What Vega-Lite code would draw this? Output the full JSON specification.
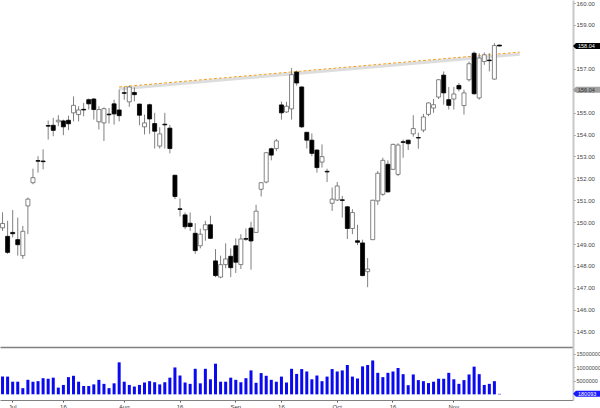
{
  "$schema": "https://vega.github.io/schema/vega-lite/v6.json",
  "padding": 0,
  "spacing": 0,
  "config": {
    "view": {"stroke": null},
    "axis": {"grid": false, "labelFont": "Liberation Sans", "title": null, "labelOverlap": false},
    "concat": {"spacing": 0}
  },
  "params": [
    {"name": "days", "value": ["2013-06-27","2013-06-28","2013-07-01","2013-07-02","2013-07-03","2013-07-05","2013-07-08","2013-07-09","2013-07-10","2013-07-11","2013-07-12","2013-07-15","2013-07-16","2013-07-17","2013-07-18","2013-07-19","2013-07-22","2013-07-23","2013-07-24","2013-07-25","2013-07-26","2013-07-29","2013-07-30","2013-07-31","2013-08-01","2013-08-02","2013-08-05","2013-08-06","2013-08-07","2013-08-08","2013-08-09","2013-08-12","2013-08-13","2013-08-14","2013-08-15","2013-08-16","2013-08-19","2013-08-20","2013-08-21","2013-08-22","2013-08-23","2013-08-26","2013-08-27","2013-08-28","2013-08-29","2013-08-30","2013-09-03","2013-09-04","2013-09-05","2013-09-06","2013-09-09","2013-09-10","2013-09-11","2013-09-12","2013-09-13","2013-09-16","2013-09-17","2013-09-18","2013-09-19","2013-09-20","2013-09-23","2013-09-24","2013-09-25","2013-09-26","2013-09-27","2013-09-30","2013-10-01","2013-10-02","2013-10-03","2013-10-04","2013-10-07","2013-10-08","2013-10-09","2013-10-10","2013-10-11","2013-10-14","2013-10-15","2013-10-16","2013-10-17","2013-10-18","2013-10-21","2013-10-22","2013-10-23","2013-10-24","2013-10-25","2013-10-28","2013-10-29","2013-10-30","2013-10-31","2013-11-01","2013-11-04","2013-11-05","2013-11-06","2013-11-07","2013-11-08","2013-11-11","2013-11-12","2013-11-13","2013-11-14","2013-11-15","2013-11-18","2013-11-19","2013-11-20","2013-11-21","2013-11-22","2013-11-25","2013-11-26","2013-11-27","2013-11-29","2013-12-02","2013-12-03","2013-12-04","2013-12-05"]}
  ],
  "datasets": {
    "ohlc": [
      {"d":"2013-06-27","o":149.74,"h":150.45,"l":149.60,"c":149.94,"v":6600000},
      {"d":"2013-06-28","o":149.35,"h":150.06,"l":148.55,"c":148.62,"v":6600000},
      {"d":"2013-07-01","o":149.53,"h":150.55,"l":149.30,"c":149.47,"v":4700000},
      {"d":"2013-07-02","o":149.20,"h":150.21,"l":148.47,"c":148.97,"v":4700000},
      {"d":"2013-07-03","o":148.47,"h":149.83,"l":148.32,"c":149.58,"v":2300000},
      {"d":"2013-07-05","o":150.74,"h":151.12,"l":149.45,"c":151.05,"v":5400000},
      {"d":"2013-07-08","o":151.80,"h":152.44,"l":151.73,"c":152.03,"v":4700000},
      {"d":"2013-07-09","o":152.81,"h":153.01,"l":152.26,"c":152.78,"v":4900000},
      {"d":"2013-07-10","o":152.79,"h":153.32,"l":152.41,"c":152.76,"v":6000000},
      {"d":"2013-07-11","o":154.41,"h":154.64,"l":153.77,"c":154.38,"v":5800000},
      {"d":"2013-07-12","o":154.42,"h":154.76,"l":153.92,"c":154.19,"v":6200000},
      {"d":"2013-07-15","o":154.58,"h":154.88,"l":154.38,"c":154.65,"v":2500000},
      {"d":"2013-07-16","o":154.62,"h":154.68,"l":153.97,"c":154.35,"v":3500000},
      {"d":"2013-07-17","o":154.65,"h":154.86,"l":154.20,"c":154.49,"v":6400000},
      {"d":"2013-07-18","o":154.99,"h":155.74,"l":154.60,"c":155.33,"v":6900000},
      {"d":"2013-07-19","o":154.91,"h":155.29,"l":154.60,"c":155.12,"v":4700000},
      {"d":"2013-07-22","o":155.15,"h":155.44,"l":154.83,"c":155.12,"v":3100000},
      {"d":"2013-07-23","o":155.59,"h":155.64,"l":155.14,"c":155.40,"v":3100000},
      {"d":"2013-07-24","o":155.62,"h":155.67,"l":154.68,"c":155.14,"v":3700000},
      {"d":"2013-07-25","o":154.58,"h":155.29,"l":154.23,"c":155.14,"v":5400000},
      {"d":"2013-07-26","o":154.53,"h":155.24,"l":153.70,"c":155.18,"v":3900000},
      {"d":"2013-07-29","o":154.93,"h":155.21,"l":154.50,"c":154.90,"v":2300000},
      {"d":"2013-07-30","o":155.40,"h":155.59,"l":154.45,"c":154.94,"v":4100000},
      {"d":"2013-07-31","o":155.12,"h":156.05,"l":154.60,"c":154.86,"v":11900000},
      {"d":"2013-08-01","o":155.91,"h":156.17,"l":155.59,"c":155.88,"v":4700000},
      {"d":"2013-08-02","o":155.49,"h":156.23,"l":155.26,"c":156.17,"v":3500000},
      {"d":"2013-08-05","o":155.92,"h":156.15,"l":155.51,"c":155.82,"v":2900000},
      {"d":"2013-08-06","o":155.39,"h":155.40,"l":154.42,"c":154.88,"v":3500000},
      {"d":"2013-08-07","o":154.35,"h":154.91,"l":154.00,"c":154.53,"v":4400000},
      {"d":"2013-08-08","o":155.36,"h":155.41,"l":154.03,"c":154.71,"v":4900000},
      {"d":"2013-08-09","o":154.50,"h":154.99,"l":153.36,"c":154.15,"v":4500000},
      {"d":"2013-08-12","o":153.47,"h":154.33,"l":153.36,"c":154.03,"v":3700000},
      {"d":"2013-08-13","o":154.47,"h":154.99,"l":153.36,"c":154.44,"v":4500000},
      {"d":"2013-08-14","o":154.29,"h":154.44,"l":153.14,"c":153.36,"v":6200000},
      {"d":"2013-08-15","o":152.14,"h":152.16,"l":151.05,"c":151.17,"v":10000000},
      {"d":"2013-08-16","o":150.61,"h":151.08,"l":150.26,"c":150.58,"v":7000000},
      {"d":"2013-08-19","o":150.33,"h":150.44,"l":149.68,"c":149.79,"v":4400000},
      {"d":"2013-08-20","o":149.95,"h":150.44,"l":149.60,"c":149.80,"v":3900000},
      {"d":"2013-08-21","o":149.49,"h":149.95,"l":148.55,"c":148.70,"v":9500000},
      {"d":"2013-08-22","o":148.92,"h":149.70,"l":148.80,"c":149.45,"v":4100000},
      {"d":"2013-08-23","o":149.65,"h":150.06,"l":149.15,"c":149.88,"v":9500000},
      {"d":"2013-08-26","o":149.88,"h":150.29,"l":149.23,"c":149.26,"v":5600000},
      {"d":"2013-08-27","o":148.23,"h":148.77,"l":147.49,"c":147.56,"v":11400000},
      {"d":"2013-08-28","o":147.49,"h":148.47,"l":147.44,"c":148.06,"v":4700000},
      {"d":"2013-08-29","o":148.06,"h":149.03,"l":147.89,"c":148.32,"v":4700000},
      {"d":"2013-08-30","o":148.44,"h":148.80,"l":147.49,"c":147.92,"v":6200000},
      {"d":"2013-09-03","o":148.92,"h":149.26,"l":147.68,"c":148.17,"v":5400000},
      {"d":"2013-09-04","o":148.06,"h":149.45,"l":147.86,"c":149.23,"v":4500000},
      {"d":"2013-09-05","o":149.25,"h":149.71,"l":149.14,"c":149.22,"v":6000000},
      {"d":"2013-09-06","o":149.73,"h":150.01,"l":147.83,"c":149.14,"v":8900000},
      {"d":"2013-09-09","o":149.53,"h":150.79,"l":149.53,"c":150.50,"v":4300000},
      {"d":"2013-09-10","o":151.50,"h":151.83,"l":151.17,"c":151.80,"v":7900000},
      {"d":"2013-09-11","o":151.83,"h":153.20,"l":151.77,"c":153.17,"v":6900000},
      {"d":"2013-09-12","o":153.35,"h":153.40,"l":152.82,"c":153.06,"v":5400000},
      {"d":"2013-09-13","o":153.36,"h":153.80,"l":153.24,"c":153.71,"v":4700000},
      {"d":"2013-09-16","o":155.35,"h":155.51,"l":154.68,"c":154.99,"v":6600000},
      {"d":"2013-09-17","o":155.03,"h":155.49,"l":154.99,"c":155.29,"v":4400000},
      {"d":"2013-09-18","o":155.17,"h":157.03,"l":154.68,"c":156.73,"v":9500000},
      {"d":"2013-09-19","o":156.85,"h":156.92,"l":156.23,"c":156.35,"v":7600000},
      {"d":"2013-09-20","o":156.17,"h":156.20,"l":154.30,"c":154.35,"v":9400000},
      {"d":"2013-09-23","o":154.10,"h":154.12,"l":153.36,"c":153.74,"v":8500000},
      {"d":"2013-09-24","o":153.74,"h":154.05,"l":153.01,"c":153.14,"v":5600000},
      {"d":"2013-09-25","o":153.29,"h":153.32,"l":152.26,"c":152.49,"v":7000000},
      {"d":"2013-09-26","o":152.74,"h":153.55,"l":152.49,"c":152.99,"v":4900000},
      {"d":"2013-09-27","o":152.32,"h":152.44,"l":151.83,"c":152.29,"v":6600000},
      {"d":"2013-09-30","o":150.86,"h":151.58,"l":150.51,"c":151.05,"v":9400000},
      {"d":"2013-10-01","o":151.01,"h":151.83,"l":150.97,"c":151.65,"v":8500000},
      {"d":"2013-10-02","o":151.02,"h":151.20,"l":150.21,"c":150.99,"v":8900000},
      {"d":"2013-10-03","o":150.70,"h":150.74,"l":149.23,"c":149.71,"v":10900000},
      {"d":"2013-10-04","o":149.71,"h":150.59,"l":149.45,"c":150.44,"v":6600000},
      {"d":"2013-10-07","o":149.15,"h":149.88,"l":148.95,"c":149.08,"v":5900000},
      {"d":"2013-10-08","o":149.05,"h":149.20,"l":147.53,"c":147.56,"v":10400000},
      {"d":"2013-10-09","o":147.74,"h":148.36,"l":147.03,"c":147.86,"v":10900000},
      {"d":"2013-10-10","o":149.20,"h":151.02,"l":149.18,"c":151.00,"v":12600000},
      {"d":"2013-10-11","o":150.97,"h":152.33,"l":150.79,"c":152.23,"v":8000000},
      {"d":"2013-10-14","o":151.27,"h":152.94,"l":151.20,"c":152.82,"v":6400000},
      {"d":"2013-10-15","o":152.64,"h":152.82,"l":151.36,"c":151.38,"v":8000000},
      {"d":"2013-10-16","o":152.41,"h":153.58,"l":152.38,"c":153.55,"v":8500000},
      {"d":"2013-10-17","o":152.18,"h":153.60,"l":152.10,"c":153.52,"v":9800000},
      {"d":"2013-10-18","o":153.67,"h":153.77,"l":152.94,"c":153.64,"v":7500000},
      {"d":"2013-10-21","o":153.74,"h":153.76,"l":153.29,"c":153.58,"v":3400000},
      {"d":"2013-10-22","o":154.03,"h":154.88,"l":153.90,"c":154.27,"v":7400000},
      {"d":"2013-10-23","o":153.86,"h":154.08,"l":153.35,"c":153.84,"v":5300000},
      {"d":"2013-10-24","o":154.20,"h":154.94,"l":154.10,"c":154.80,"v":4900000},
      {"d":"2013-10-25","o":154.92,"h":155.47,"l":154.83,"c":155.44,"v":4200000},
      {"d":"2013-10-28","o":155.21,"h":155.62,"l":154.99,"c":155.36,"v":4700000},
      {"d":"2013-10-29","o":155.71,"h":156.53,"l":155.62,"c":156.50,"v":5800000},
      {"d":"2013-10-30","o":156.71,"h":156.88,"l":155.36,"c":155.90,"v":5800000},
      {"d":"2013-10-31","o":155.59,"h":156.17,"l":155.14,"c":155.33,"v":8000000},
      {"d":"2013-11-01","o":155.62,"h":156.17,"l":155.14,"c":155.85,"v":5600000},
      {"d":"2013-11-04","o":156.24,"h":156.35,"l":155.97,"c":156.08,"v":3900000},
      {"d":"2013-11-05","o":155.32,"h":156.05,"l":154.91,"c":155.90,"v":5300000},
      {"d":"2013-11-06","o":156.50,"h":157.33,"l":156.42,"c":157.23,"v":7400000},
      {"d":"2013-11-07","o":157.71,"h":157.79,"l":155.82,"c":155.86,"v":10300000},
      {"d":"2013-11-08","o":155.67,"h":157.71,"l":155.59,"c":157.49,"v":7500000},
      {"d":"2013-11-11","o":157.33,"h":157.74,"l":157.18,"c":157.64,"v":3500000},
      {"d":"2013-11-12","o":157.40,"h":157.71,"l":156.88,"c":157.37,"v":3900000},
      {"d":"2013-11-13","o":156.53,"h":158.17,"l":156.50,"c":158.06,"v":4900000},
      {"d":"2013-11-14","o":158.08,"h":158.10,"l":158.02,"c":158.04,"v":180093}
    ],
    "trend": [
      {"d":"2013-07-31","p":156.17},
      {"d":"2013-11-20","p":157.76}
    ],
    "tags": [
      {"p":158.04,"t":"158.04","k":"last"},
      {"p":156.04,"t":"156.04","k":"prev"}
    ]
  },
  "vconcat": [
    {
      "width": 573,
      "height": 347,
      "layer": [
        {
          "data": {"name": "trend"},
          "mark": {"type": "line", "stroke": "#cfcfcf", "strokeWidth": 3, "opacity": 0.7, "yOffset": 2},
          "encoding": {
            "x": {"field": "d", "type": "ordinal", "scale": {"type": "band", "domain": {"expr": "days"}, "paddingInner": 0, "paddingOuter": 0},
                  "axis": {"labels": false, "ticks": false, "domainColor": "#808080", "domainWidth": 1.5, "title": null}},
            "y": {"field": "p", "type": "quantitative", "scale": {"domain": [144.3, 160.14], "zero": false, "nice": false},
                  "axis": {"orient": "right", "values": [145,146,147,148,149,150,151,152,153,154,155,156,157,158,159,160], "tickCount": 40, "format": ".2f",
                           "domainColor": "#c8c8c8", "domainWidth": 2, "tickColor": "#555", "tickSize": 2, "tickWidth": 0.8,
                           "labelFontSize": 6, "labelColor": "#444", "labelPadding": 1, "labelOverlap": false, "title": null}}
          }
        },
        {
          "data": {"name": "trend"},
          "mark": {"type": "line", "stroke": "#f0a020", "strokeWidth": 1, "strokeDash": [3, 2]},
          "encoding": {
            "x": {"field": "d", "type": "ordinal"},
            "y": {"field": "p", "type": "quantitative"}
          }
        },
        {
          "data": {"name": "ohlc"},
          "mark": {"type": "rule", "stroke": "#808080", "strokeWidth": 1},
          "encoding": {
            "x": {"field": "d", "type": "ordinal"},
            "y": {"field": "l", "type": "quantitative"},
            "y2": {"field": "h"}
          }
        },
        {
          "data": {"name": "ohlc"},
          "mark": {"type": "bar", "size": 4, "strokeWidth": 0.8},
          "encoding": {
            "x": {"field": "d", "type": "ordinal"},
            "y": {"field": "o", "type": "quantitative"},
            "y2": {"field": "c"},
            "fill": {"condition": {"test": "datum.c < datum.o", "value": "#000000"}, "value": "#ffffff"},
            "stroke": {"condition": {"test": "datum.c < datum.o", "value": "#000000"}, "value": "#666666"}
          }
        },
        {
          "data": {"name": "tags"},
          "mark": {"type": "point", "shape": "M0,0L0.1,-0.1L1,-0.1L1,0.1L0.1,0.1Z", "size": 3600, "filled": true, "strokeWidth": 0, "opacity": 1},
          "encoding": {
            "x": {"value": "width"},
            "y": {"field": "p", "type": "quantitative"},
            "fill": {"condition": {"test": "datum.k == 'last'", "value": "#000000"}, "value": "#a0a0a0"}
          }
        },
        {
          "data": {"name": "tags"},
          "mark": {"type": "text", "align": "left", "baseline": "middle", "dx": 5, "fontSize": 5.5, "font": "Liberation Sans"},
          "encoding": {
            "x": {"value": "width"},
            "y": {"field": "p", "type": "quantitative"},
            "text": {"field": "t"},
            "fill": {"condition": {"test": "datum.k == 'last'", "value": "#ffffff"}, "value": "#333333"}
          }
        }
      ]
    },
    {
      "width": 573,
      "height": 53,
      "data": {"name": "ohlc"},
      "layer": [
        {
          "mark": {"type": "bar", "size": 3, "color": "#0a0af0"},
          "encoding": {
            "x": {"field": "d", "type": "ordinal", "scale": {"type": "band", "domain": {"expr": "days"}, "paddingInner": 0, "paddingOuter": 0},
                  "axis": {"values": ["2013-07-01","2013-07-16","2013-08-01","2013-08-16","2013-09-03","2013-09-16","2013-10-01","2013-10-16","2013-11-01"],
                           "labelExpr": "slice(datum.value, 8) == '16' ? '16' : utcFormat(toDate(datum.value), '%b')",
                           "labelAngle": 0, "labelFontSize": 6, "labelColor": "#333", "labelPadding": 1, "tickSize": 2, "tickColor": "#555",
                           "labelOverlap": false, "domainColor": "#808080", "domainWidth": 1, "title": null}},
            "y": {"field": "v", "type": "quantitative", "scale": {"domain": [-2100000, 17600000], "zero": false, "nice": false},
                  "axis": {"orient": "right", "values": [5000000, 10000000, 15000000], "tickCount": 10, "format": "d",
                           "domainColor": "#c8c8c8", "domainWidth": 2, "tickColor": "#555", "tickSize": 2, "tickWidth": 0.8,
                           "labelFontSize": 5.5, "labelColor": "#444", "labelPadding": 1, "labelOverlap": false, "title": null}},
            "y2": {"datum": 0}
          }
        },
        {
          "transform": [{"filter": "datum.d == '2013-11-14'"}],
          "mark": {"type": "point", "shape": "M0,0L0.1,-0.1L1,-0.1L1,0.1L0.1,0.1Z", "size": 3600, "filled": true, "strokeWidth": 0, "opacity": 1, "fill": "#1a1aff"},
          "encoding": {
            "x": {"value": "width"},
            "y": {"field": "v", "type": "quantitative"}
          }
        },
        {
          "transform": [{"filter": "datum.d == '2013-11-14'"}],
          "mark": {"type": "text", "align": "left", "baseline": "middle", "dx": 5, "fontSize": 5.5, "font": "Liberation Sans", "fill": "#ffffff"},
          "encoding": {
            "x": {"value": "width"},
            "y": {"field": "v", "type": "quantitative"},
            "text": {"field": "v", "format": "d"}
          }
        }
      ]
    }
  ]
}
